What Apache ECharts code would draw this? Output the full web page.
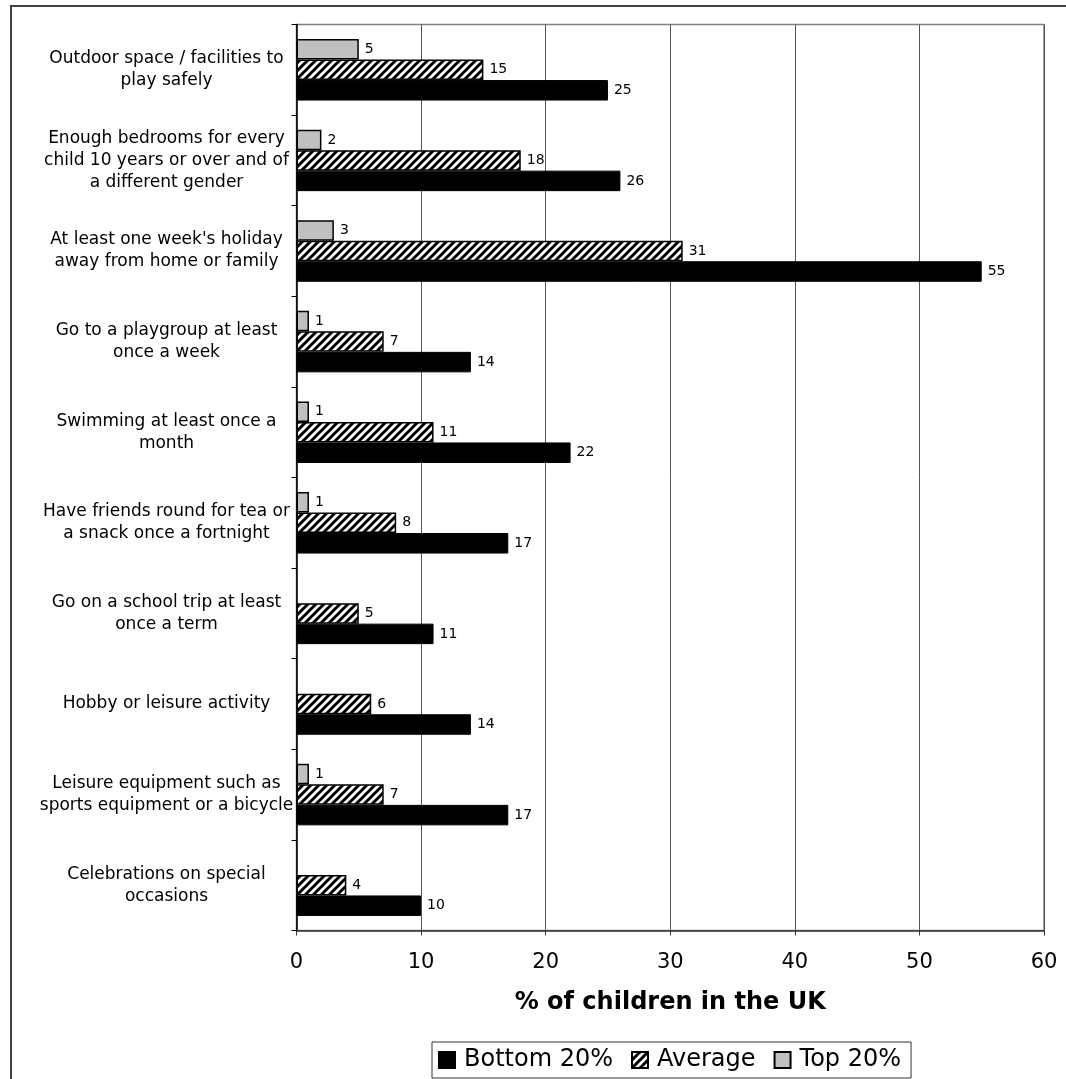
<!DOCTYPE html>
<html>
<head>
<meta charset="utf-8">
<script src="https://cdn.jsdelivr.net/npm/echarts@6/dist/echarts.min.js"></script>
<style>
html, body { margin: 0; padding: 0; background: #fff; }
#chart { width: 1066px; height: 1079px; }
</style>
</head>
<body>
<div id="chart"></div>
<script>
const categories = [
  "Outdoor space / facilities to\nplay safely",
  "Enough bedrooms for every\nchild 10 years or over and of\na different gender",
  "At least one week's holiday\naway from home or family",
  "Go to a playgroup at least\nonce a week",
  "Swimming at least once a\nmonth",
  "Have friends round for tea or\na snack once a fortnight",
  "Go on a school trip at least\nonce a term",
  "Hobby or leisure activity",
  "Leisure equipment such as\nsports equipment or a bicycle",
  "Celebrations on special\noccasions"
];
const bottom20 = [25, 26, 55, 14, 22, 17, 11, 14, 17, 10];
const average = [15, 18, 31, 7, 11, 8, 5, 6, 7, 4];
const top20 = [5, 2, 3, 1, 1, 1, null, null, 1, null];
const xTicks = [0, 10, 20, 30, 40, 50, 60];

function hatch() {
  const c = document.createElement('canvas');
  c.width = 8; c.height = 8;
  const g = c.getContext('2d');
  g.fillStyle = '#fff';
  g.fillRect(0, 0, 8, 8);
  g.strokeStyle = '#000';
  g.lineWidth = 3;
  g.beginPath();
  g.moveTo(-4, 4); g.lineTo(4, -4);
  g.moveTo(0, 8); g.lineTo(8, 0);
  g.moveTo(4, 12); g.lineTo(12, 4);
  g.stroke();
  return { image: c, repeat: 'repeat' };
}

const FONT = "'DejaVu Sans', Verdana, sans-serif";
const chart = echarts.init(document.getElementById('chart'), null, { renderer: 'canvas' });

const labelCfg = { show: true, position: 'right', distance: 6, fontSize: 14, color: '#000', fontFamily: FONT };

chart.setOption({
  animation: false,
  backgroundColor: '#fff',
  textStyle: { fontFamily: FONT },
  graphic: [{
    type: 'rect',
    shape: { x: 11, y: 6, width: 1200, height: 1200 },
    style: { fill: null, stroke: '#404040', lineWidth: 2 },
    silent: true
  }],
  grid: {
    left: 296.5, right: 22, top: 24.5, bottom: 148.5,
    show: true, borderColor: '#808080', borderWidth: 1.5, backgroundColor: 'transparent'
  },
  legend: {
    data: ['Bottom 20%', 'Average', 'Top 20%'],
    left: 432, top: 1042,
    orient: 'horizontal',
    icon: 'rect',
    itemWidth: 16, itemHeight: 16,
    itemGap: 18,
    padding: [6, 10, 6, 6],
    borderColor: '#333', borderWidth: 1,
    textStyle: { fontSize: 24, color: '#000', fontFamily: FONT, padding: [0, 0, 0, 4] }
  },
  xAxis: {
    type: 'value',
    min: xTicks[0], max: xTicks[xTicks.length - 1], interval: 10,
    name: '% of children in the UK',
    nameLocation: 'middle',
    nameGap: 60,
    nameTextStyle: { fontSize: 24, fontWeight: 'bold', color: '#000', fontFamily: FONT },
    axisLine: { show: true, lineStyle: { color: '#333', width: 1.5 } },
    axisTick: { show: true, length: 5, lineStyle: { color: '#333' } },
    axisLabel: { fontSize: 21, color: '#000', margin: 22, fontFamily: FONT },
    splitLine: { show: true, lineStyle: { color: '#555', width: 1 } }
  },
  yAxis: {
    type: 'category',
    data: categories,
    inverse: true,
    axisLine: { show: true, lineStyle: { color: '#000', width: 1.5 } },
    axisTick: { show: true, length: 5, lineStyle: { color: '#000' } },
    axisLabel: { fontSize: 17, color: '#000', align: 'center', margin: 130, lineHeight: 22, fontFamily: FONT },
    splitLine: { show: false }
  },
  series: [
    {
      name: 'Top 20%', type: 'bar', data: top20,
      barWidth: 20.5, barGap: '0%',
      itemStyle: { color: '#c0c0c0', borderColor: '#000', borderWidth: 1.5 },
      label: labelCfg
    },
    {
      name: 'Average', type: 'bar', data: average,
      barWidth: 20.5, barGap: '0%',
      itemStyle: { color: hatch(), borderColor: '#000', borderWidth: 1.5 },
      label: labelCfg
    },
    {
      name: 'Bottom 20%', type: 'bar', data: bottom20,
      barWidth: 20.5, barGap: '0%',
      itemStyle: { color: '#000', borderColor: '#000', borderWidth: 1 },
      label: labelCfg
    }
  ]
});
</script>
</body>
</html>
